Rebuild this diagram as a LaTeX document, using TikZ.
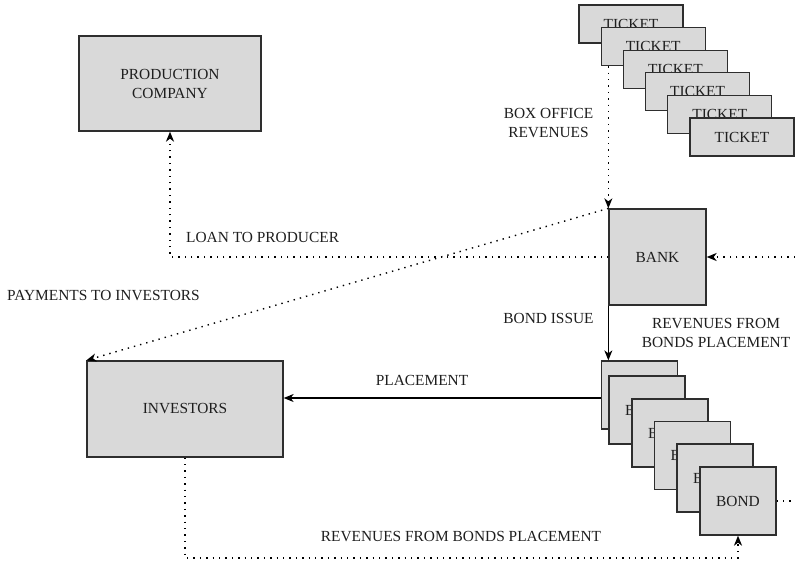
\documentclass[tikz,border=0pt]{standalone}
\usepackage{fontspec}
\setmainfont{Liberation Serif}
\usetikzlibrary{arrows.meta,calc}
\definecolor{boxfill}{HTML}{D9D9D9}
\definecolor{boxline}{HTML}{2E2E2E}
\definecolor{txt}{HTML}{1E1E1E}
\begin{document}
\begin{tikzpicture}[x=1pt,y=-1pt,
  every node/.style={text=txt,font=\fontsize{15.4}{19}\selectfont},
  grbox/.style={draw=boxline,fill=boxfill,line width=1.3pt,inner sep=0pt,align=center},
  ticketbox/.style={grbox,minimum width=104pt,minimum height=38pt},
  bondbox/.style={grbox,minimum width=76pt,minimum height=68pt},
  dotline/.style={line width=1.4pt,dash pattern=on 1.4pt off 5pt,black},
  dotarrow/.style={dotline,-{Stealth[length=10pt,width=8pt,inset=3pt]}},
  solidarrow/.style={line width=1.1pt,black,-{Stealth[length=10pt,width=8pt,inset=3pt]}},
  lbl/.style={inner sep=0pt,align=center}]
\useasboundingbox (0,0) rectangle (795,562);

% main boxes
\node[grbox,minimum width=182pt,minimum height=95pt] (prod) at (170,83.5) {PRODUCTION\\COMPANY};
\node[grbox,minimum width=97pt,minimum height=96pt] (bank) at (657.5,257) {BANK};
\node[grbox,minimum width=196pt,minimum height=96pt] (inv) at (185,409) {INVESTORS};

% ticket stack
\node[ticketbox] (t1) at (631,24) {TICKET};
\node[ticketbox] (t2) at (653.2,46.6) {TICKET};
\node[ticketbox] (t3) at (675.4,69.2) {TICKET};
\node[ticketbox] (t4) at (697.6,91.8) {TICKET};
\node[ticketbox] (t5) at (719.8,114.4) {TICKET};
\node[ticketbox] (t6) at (742,137) {TICKET};

% bond stack
\node[bondbox] (b1) at (639.5,395) {BOND};
\node[bondbox] (b2) at (647,410) {BOND};
\node[bondbox] (b3) at (670,433) {BOND};
\node[bondbox] (b4) at (692.5,455.5) {BOND};
\node[bondbox] (b5) at (715,478) {BOND};
\node[bondbox] (b6) at (738,501) {BOND};

% free ends
\coordinate (rin) at (795,257);
\coordinate (rout) at (795,501);
\coordinate (bl) at (185,558);
\coordinate (br) at (738,558);

% connectors
\draw[dotarrow] (t2.south -| bank.west) -- (bank.north west);
\draw[dotarrow] (bank.west) -- (bank.west -| prod.south) -- (prod.south);
\draw[dotarrow] (bank.north west) -- (inv.north west);
\draw[dotarrow] (rin) -- (bank.east);
\draw[solidarrow] (bank.south west) -- (b1.north -| bank.west);
\draw[solidarrow] ([yshift=-3pt]b1.west) -- ([yshift=-3pt]b1.west -| inv.east);
\draw[dotarrow] (inv.south) -- (bl) -- (br) -- (b6.south);
\draw[dotline] (b6.east) -- (rout);

% labels
\node[lbl] (lloan) at (186,237) [anchor=west] {LOAN TO PRODUCER};
\node[lbl] (lpay) at (7,296) [anchor=west] {PAYMENTS TO INVESTORS};
\node[lbl] (lbox) at (548.5,123.5) {BOX OFFICE\\REVENUES};
\node[lbl] (liss) at (548.5,318) {BOND ISSUE};
\node[lbl] (lrev1) at (716,333) {REVENUES FROM\\BONDS PLACEMENT};
\node[lbl] (lplc) at (422,380) {PLACEMENT};
\node[lbl] (lrev2) at (461,537) {REVENUES FROM BONDS PLACEMENT};
\end{tikzpicture}
\end{document}
